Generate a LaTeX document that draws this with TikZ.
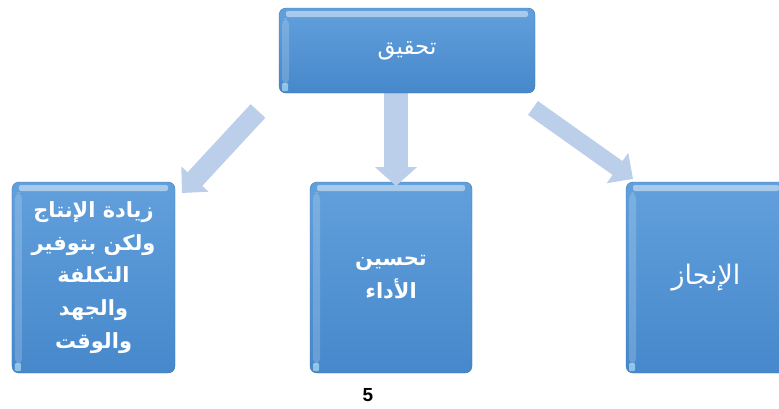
\documentclass[tikz,border=0pt]{standalone}
\usepackage{fontspec}
\setmainfont{Liberation Sans}
\newfontfamily\arabicfont[Script=Arabic]{DejaVu Sans}
\usetikzlibrary{arrows.meta}
\TeXXeTstate=1
\definecolor{boxblue}{HTML}{4688CB}
\definecolor{boxtop}{HTML}{62A0DC}
\definecolor{arrowblue}{HTML}{BBCEEA}
\newcommand{\rtltext}[1]{\beginR #1\endR}

\begin{document}
\begin{tikzpicture}[x=1bp, y=-1bp,
  box/.style={rounded corners=7bp, top color=boxtop, bottom color=boxblue,
    draw=boxblue!85!black, line width=.4bp, text=white, align=center, inner sep=0pt,
    path picture={
      \fill[white, opacity=.45, rounded corners=2bp]
        ([xshift=7bp,yshift=-3bp]path picture bounding box.north west) rectangle
        ([xshift=-7bp,yshift=-9bp]path picture bounding box.north east);
      \fill[white, opacity=.18]
        ([xshift=3bp,yshift=-10bp]path picture bounding box.north west) rectangle
        ([xshift=10bp,yshift=8bp]path picture bounding box.south west);
      \fill[cyan!25, opacity=.6, rounded corners=1bp]
        ([xshift=3bp,yshift=10bp]path picture bounding box.south west) rectangle
        ([xshift=9bp,yshift=2bp]path picture bounding box.south west);}},
  flow/.style={draw=arrowblue, line width=20bp, -{Triangle[width=36bp,length=19bp]}}]
  \useasboundingbox (0,0) rectangle (779,408);
  % lower boxes
  \node[box, minimum width=163bp, minimum height=191bp, font=\arabicfont\bfseries\fontsize{21}{33}\selectfont]
    (L) at (93.5,277.5) {\rtltext{زيادة الإنتاج}\\ \rtltext{ولكن بتوفير}\\ \rtltext{التكلفة}\\ \rtltext{والجهد}\\ \rtltext{والوقت}};
  \node[box, minimum width=162bp, minimum height=191bp, font=\arabicfont\bfseries\fontsize{21}{33}\selectfont]
    (M) at (391,277.5) {\rtltext{تحسين}\\ \rtltext{الأداء}};
  \node[box, minimum width=160bp, minimum height=191bp, font=\arabicfont\fontsize{27}{33}\selectfont]
    (R) at (706,277.5) {\rtltext{الإنجاز}};
  % arrows
  \coordinate (a1) at (258,111); \coordinate (a2) at (182,193);
  \coordinate (b1) at (396,90);  \coordinate (b2) at (396,186);
  \coordinate (c1) at (533,108); \coordinate (c2) at (633,179);
  \draw[flow] (a1) -- (a2);
  \draw[flow, line width=24bp, -{Triangle[width=41bp,length=19bp]}] (b1) -- (b2);
  \draw[flow, line width=17bp] (c1) -- (c2);
  % top box
  \node[box, minimum width=256bp, minimum height=85bp, font=\arabicfont\fontsize{23}{26}\selectfont]
    (G) at (407,50.5) {\rtltext{تحقيق}};
  \node[font=\bfseries\fontsize{19}{21}\selectfont] (page) at (368,395) {5}; % page number
\end{tikzpicture}
\end{document}
